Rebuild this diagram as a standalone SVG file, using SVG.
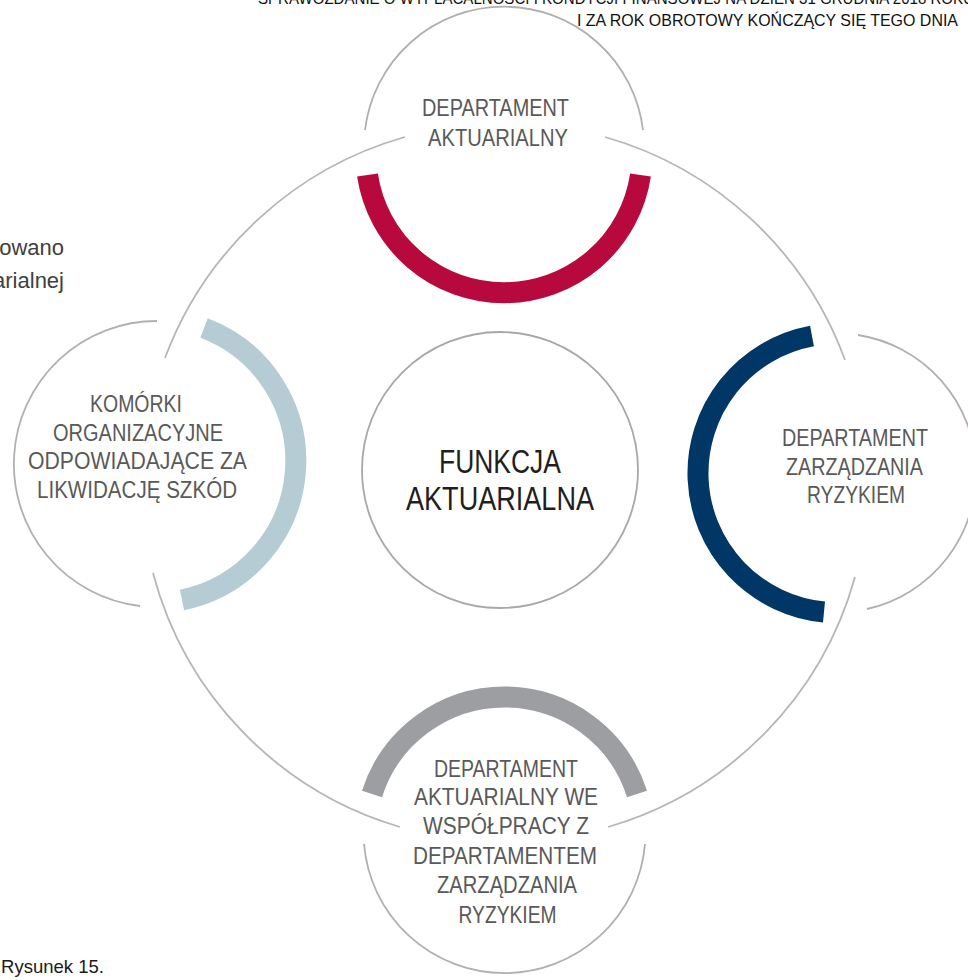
<svg xmlns="http://www.w3.org/2000/svg" width="968" height="980" viewBox="0 0 968 980">
<style>
.thin{fill:none;stroke:#B4AFAF;stroke-width:1.8}
.ring{fill:none;stroke:#BAB5B5;stroke-width:1.8}
.thick{fill:none;stroke-width:21;stroke-linecap:butt}
.lbl{font-family:"Liberation Sans Narrow","Liberation Sans",Arial,sans-serif;font-size:24px;fill:#595959;text-anchor:middle}
.ctr{font-family:"Liberation Sans Narrow","Liberation Sans",Arial,sans-serif;font-size:34px;fill:#1f1f1f;text-anchor:middle}
.hdr{font-family:"Liberation Sans Narrow","Liberation Sans",Arial,sans-serif;font-size:17px;fill:#111}
.frag{font-family:"Liberation Sans",Arial,sans-serif;font-size:22px;fill:#404040}
</style>
<rect width="968" height="980" fill="#fff"/>
<text class="hdr" x="258" y="4" textLength="716" lengthAdjust="spacingAndGlyphs">SPRAWOZDANIE O WYPŁACALNOŚCI I KONDYCJI FINANSOWEJ NA DZIEŃ 31 GRUDNIA 2018 ROKU</text>
<text class="hdr" x="577" y="26" textLength="381" lengthAdjust="spacingAndGlyphs">I ZA ROK OBROTOWY KOŃCZĄCY SIĘ TEGO DNIA</text>
<text class="frag" x="64" y="255" text-anchor="end">owano</text>
<text class="frag" x="64" y="288" text-anchor="end">arialnej</text>
<text class="frag" x="1" y="973" style="font-size:19px;fill:#1a1a1a" textLength="103" lengthAdjust="spacingAndGlyphs">Rysunek  15.</text>

<g id="connectors">
<path class="ring" d="M 165 358 A 361 361 0 0 1 405 137"/>
<path class="ring" d="M 605 137 A 361 361 0 0 1 845 360"/>
<path class="ring" d="M 855 577 A 361 361 0 0 1 608 827"/>
<path class="ring" d="M 400 827 A 361 361 0 0 1 153 573"/>
</g>

<g id="center">
<circle cx="500" cy="470" r="138" fill="#fff" stroke="#A8A8A8" stroke-width="1.8"/>
<text class="ctr" x="500" y="473" textLength="122" lengthAdjust="spacingAndGlyphs">FUNKCJA</text>
<text class="ctr" x="500" y="510" textLength="188" lengthAdjust="spacingAndGlyphs">AKTUARIALNA</text>
</g>

<g id="top">
<path class="thin" d="M 365 130 A 140 140 0 0 1 643 130"/>
<path class="thick" stroke="#B8093E" d="M 367.5 175 A 138 138 0 0 0 640.5 175"/>
<text class="lbl" x="495.5" y="116" textLength="147" lengthAdjust="spacingAndGlyphs">DEPARTAMENT</text>
<text class="lbl" x="498" y="146" textLength="140" lengthAdjust="spacingAndGlyphs">AKTUARIALNY</text>
</g>

<g id="left">
<path class="thin" d="M 157 321 A 143 143 0 0 0 140 606"/>
<path class="thick" stroke="#B6CCD5" d="M 204 328 A 142 142 0 0 1 182 600"/>
<text class="lbl" style="font-size:23px" x="136" y="412" textLength="92" lengthAdjust="spacingAndGlyphs">KOMÓRKI</text>
<text class="lbl" style="font-size:23px" x="138" y="441" textLength="170" lengthAdjust="spacingAndGlyphs">ORGANIZACYJNE</text>
<text class="lbl" style="font-size:23px" x="137.5" y="469" textLength="219" lengthAdjust="spacingAndGlyphs">ODPOWIADAJĄCE ZA</text>
<text class="lbl" style="font-size:23px" x="137" y="498" textLength="200" lengthAdjust="spacingAndGlyphs">LIKWIDACJĘ SZKÓD</text>
</g>

<g id="right">
<path class="thin" d="M 858 335 A 139.5 139.5 0 0 1 867 609"/>
<path class="thick" stroke="#003767" d="M 812 336 A 139.5 139.5 0 0 0 824 612"/>
<text class="lbl" x="855" y="446" textLength="146" lengthAdjust="spacingAndGlyphs">DEPARTAMENT</text>
<text class="lbl" x="854.5" y="475" textLength="137" lengthAdjust="spacingAndGlyphs">ZARZĄDZANIA</text>
<text class="lbl" x="856" y="503" textLength="98" lengthAdjust="spacingAndGlyphs">RYZYKIEM</text>
</g>

<g id="bottom">
<path class="thick" stroke="#9D9EA1" d="M 372 794 A 139 139 0 0 1 637 794"/>
<path class="thin" d="M 364 844 A 141 141 0 0 0 645 844"/>
<text class="lbl" x="506" y="777" textLength="144" lengthAdjust="spacingAndGlyphs">DEPARTAMENT</text>
<text class="lbl" x="506" y="805" textLength="184" lengthAdjust="spacingAndGlyphs">AKTUARIALNY WE</text>
<text class="lbl" x="506" y="834" textLength="166" lengthAdjust="spacingAndGlyphs">WSPÓŁPRACY Z</text>
<text class="lbl" x="505" y="864" textLength="184" lengthAdjust="spacingAndGlyphs">DEPARTAMENTEM</text>
<text class="lbl" x="507" y="893" textLength="140" lengthAdjust="spacingAndGlyphs">ZARZĄDZANIA</text>
<text class="lbl" x="507.5" y="923" textLength="98" lengthAdjust="spacingAndGlyphs">RYZYKIEM</text>
</g>
</svg>
